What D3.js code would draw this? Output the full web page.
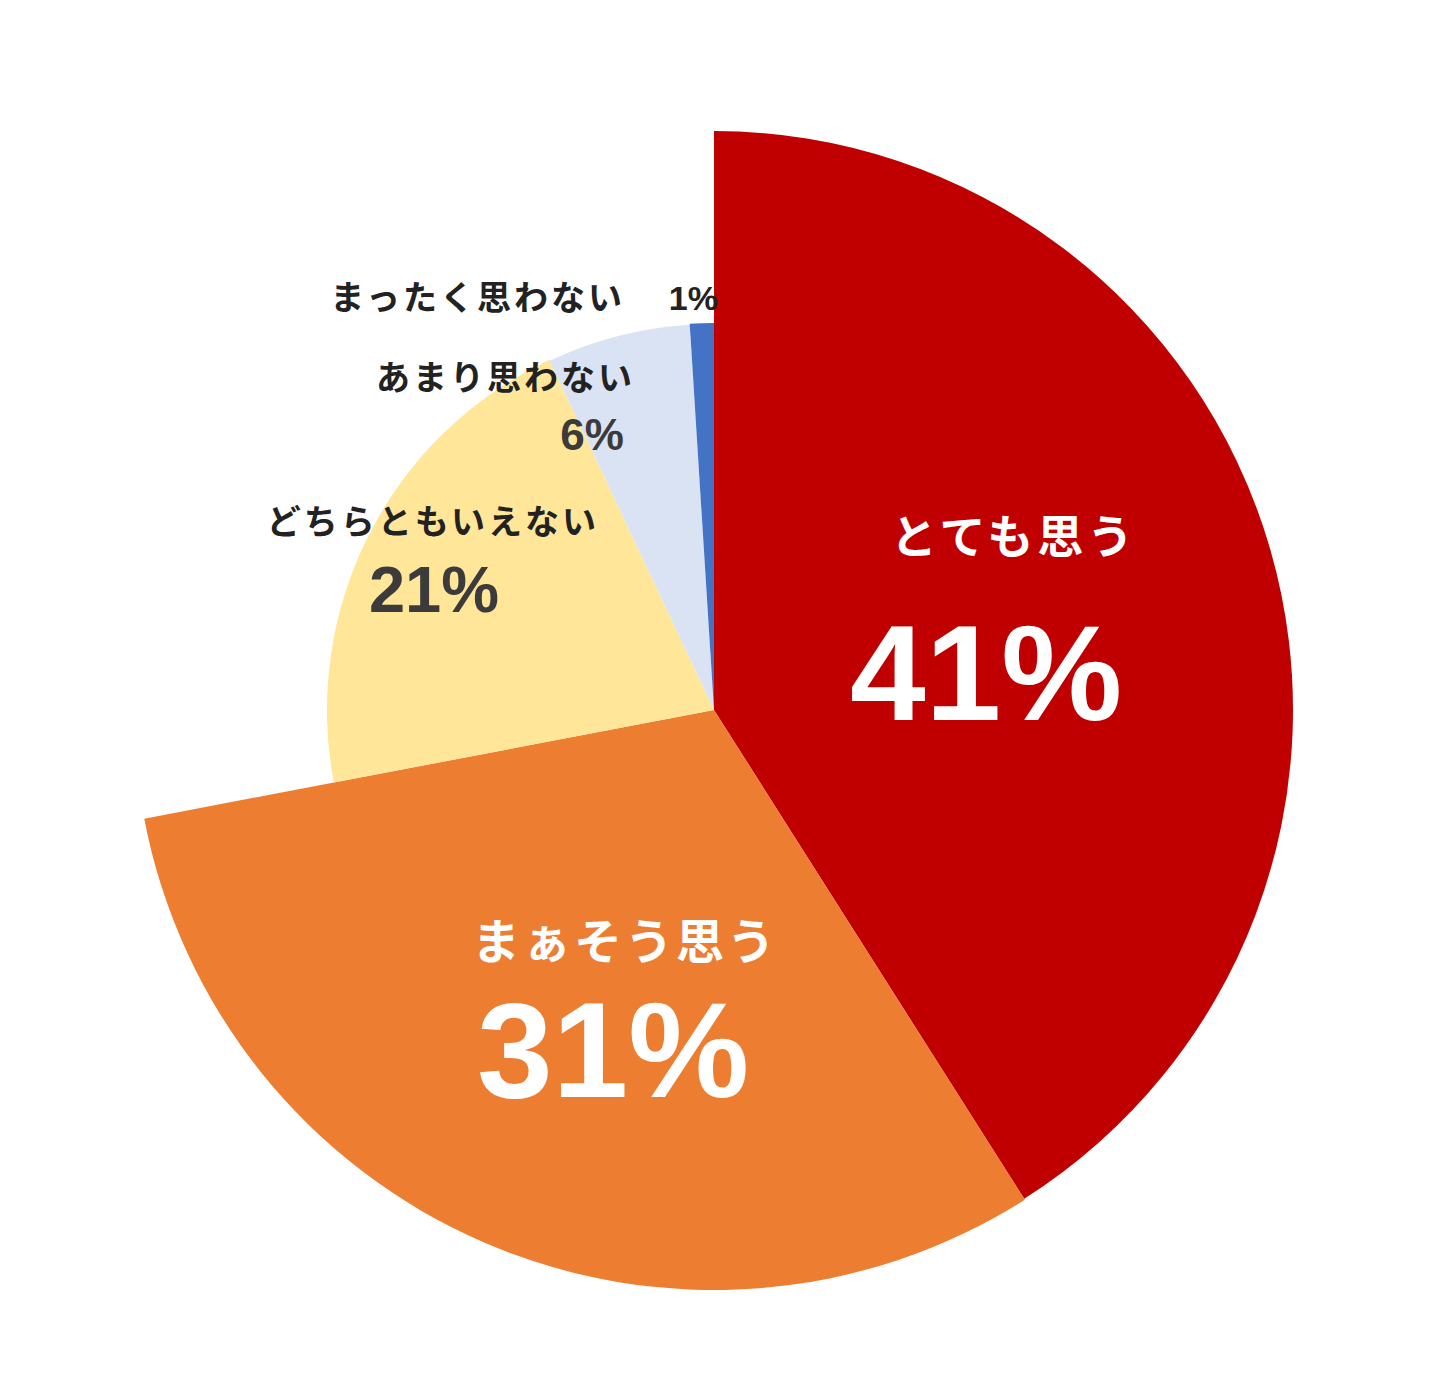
<!DOCTYPE html>
<html>
<head>
<meta charset="utf-8">
<script src="https://cdn.jsdelivr.net/npm/d3@7"></script>
<style>
  html, body { margin: 0; padding: 0; background: #fff; }
  svg text { font-family: "Noto Sans CJK JP", "Noto Sans", sans-serif; font-weight: 700; }
  svg text.value { font-family: "Liberation Sans", "Noto Sans", sans-serif; }
</style>
</head>
<body>
<svg id="pieChart"></svg>
<script>
// 回答カテゴリと割合(%)
var categories = ["とても思う", "まぁそう思う", "どちらともいえない", "あまり思わない", "まったく思わない"];
var values = [41, 31, 21, 6, 1];
var valueLabels = ["41%", "31%", "21%", "6%", "1%"];

function drawPie() {
    var width = 1430;
    var height = 1400;
    var cx = 714, cy = 710;

    var data = categories.map(function(c, i) {
        return { label: c, value: values[i], text: valueLabels[i] };
    });

    var color = d3.scaleOrdinal()
        .domain(categories)
        .range(["#C00000", "#ED7D31", "#FFE699", "#DAE3F3", "#4472C4"]);

    // 肯定的な回答は大きく、その他は小さく
    var radius = d3.scaleOrdinal()
        .domain(categories)
        .range([579, 580, 387, 386, 387]);

    var pie = d3.pie()
        .value(function(d) { return d.value; })
        .sort(null);

    var arc = d3.arc()
        .innerRadius(0)
        .outerRadius(function(d) { return radius(d.data.label); });

    var svg = d3.select("#pieChart")
        .attr("width", width)
        .attr("height", height);

    var g = svg.append("g")
        .attr("transform", "translate(" + cx + "," + cy + ")");

    g.selectAll("path")
        .data(pie(data))
        .enter().append("path")
        .attr("d", arc)
        .attr("fill", function(d) { return color(d.data.label); });

    // ラベル位置 (中心からのオフセット)
    var labelStyle = [
        { nx: 300, ny: -157, nsize: 46, nfill: "#fff", nanchor: "middle", ls: 4,
          vx: 272, vy: 10, vsize: 136, vfill: "#fff", vanchor: "middle" },
        { nx: -89, ny: 249, nsize: 48, nfill: "#fff", nanchor: "middle", ls: 3,
          vx: -101, vy: 387, vsize: 136, vfill: "#fff", vanchor: "middle" },
        { nx: -115, ny: -176, nsize: 34, nfill: "#222", nanchor: "end", ls: 3,
          vx: -280, vy: -98, vsize: 65, vfill: "#3b3b3b", vanchor: "middle" },
        { nx: -79, ny: -320, nsize: 34, nfill: "#222", nanchor: "end", ls: 3,
          vx: -122, vy: -260, vsize: 44, vfill: "#3b3b3b", vanchor: "middle" },
        { nx: -89, ny: -400, nsize: 34, nfill: "#222", nanchor: "end", ls: 3,
          vx: 4, vy: -400, vsize: 34, vfill: "#222", vanchor: "end" }
    ];

    var labels = g.selectAll(".slice-label")
        .data(pie(data))
        .enter().append("g")
        .attr("class", "slice-label");

    labels.append("text")
        .attr("class", "name")
        .attr("x", function(d, i) { return labelStyle[i].nx; })
        .attr("y", function(d, i) { return labelStyle[i].ny; })
        .attr("text-anchor", function(d, i) { return labelStyle[i].nanchor; })
        .style("font-size", function(d, i) { return labelStyle[i].nsize + "px"; })
        .style("letter-spacing", function(d, i) { return labelStyle[i].ls + "px"; })
        .style("fill", function(d, i) { return labelStyle[i].nfill; })
        .text(function(d) { return d.data.label; });

    labels.append("text")
        .attr("class", "value")
        .attr("x", function(d, i) { return labelStyle[i].vx; })
        .attr("y", function(d, i) { return labelStyle[i].vy; })
        .attr("text-anchor", function(d, i) { return labelStyle[i].vanchor; })
        .style("font-size", function(d, i) { return labelStyle[i].vsize + "px"; })
        .style("fill", function(d, i) { return labelStyle[i].vfill; })
        .text(function(d) { return d.data.text; });
}

drawPie();
</script>
</body>
</html>
